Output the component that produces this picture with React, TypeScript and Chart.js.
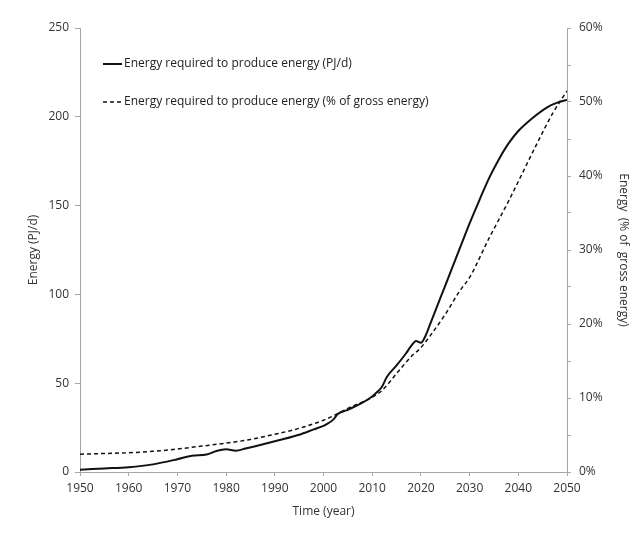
import React, { useEffect, useRef } from 'react';
import { Chart, registerables } from 'chart.js';
Chart.register(...registerables);

const pjYears = [1950, 1955, 1960, 1965, 1970, 1973, 1976, 1978, 1980, 1982, 1984, 1986, 1991, 1995, 1998, 2000, 2001, 2002, 2003, 2005, 2008, 2010, 2011, 2012, 2013, 2015, 2017, 2018, 2019, 2020, 2021, 2022, 2024, 2026, 2028, 2030, 2032, 2034, 2036, 2038, 2040, 2043, 2046, 2048, 2050];
const energyPJ = [1.3, 2.0, 2.7, 4.3, 7.2, 9.2, 9.8, 11.8, 12.8, 12.0, 13.2, 14.5, 18.0, 21.0, 24.0, 26.0, 27.5, 29.5, 32.8, 35.0, 39.0, 42.5, 45.0, 48.0, 53.5, 60.0, 67.0, 71.0, 73.8, 72.8, 77.0, 84.0, 98.0, 112.0, 126.0, 140.0, 153.0, 165.5, 176.0, 185.0, 192.0, 199.5, 205.5, 208.0, 209.5];

const pctYears = [1950, 1955, 1960, 1965, 1970, 1975, 1980, 1985, 1990, 1995, 2000, 2003, 2005, 2010, 2012, 2015, 2018, 2020, 2022, 2025, 2028, 2030, 2034, 2038, 2041, 2044, 2047, 2050];
const energyPct = [2.4, 2.5, 2.6, 2.8, 3.1, 3.5, 3.9, 4.4, 5.1, 5.9, 7.0, 7.9, 8.6, 10.1, 11.0, 13.3, 15.6, 16.8, 18.5, 21.3, 24.5, 26.3, 31.6, 36.6, 40.6, 44.6, 48.4, 51.5];

const seriesLabels = [
  'Energy required to produce energy (PJ/d)',
  'Energy required to produce energy (% of gross energy)',
];
const axisTitles = { x: 'Time (year)', y: 'Energy (PJ/d)', y1: 'Energy  (% of  gross energy)' };

const FONT = '"Open Sans", "DejaVu Sans", sans-serif';
const TEXT = '#333333';
const AXIS = '#a6a6a6';

const inlineLegend = {
  id: 'inlineLegend',
  afterDraw(chart: any) {
    const { ctx, chartArea } = chart;
    const rowsY = [chartArea.top + 36, chartArea.top + 74];
    chart.data.datasets.forEach((ds: any, i: number) => {
      const y = rowsY[i];
      const x0 = chartArea.left + 23;
      ctx.save();
      ctx.strokeStyle = ds.borderColor;
      ctx.lineWidth = ds.borderWidth;
      ctx.setLineDash(ds.borderDash || []);
      ctx.beginPath();
      ctx.moveTo(x0, y);
      ctx.lineTo(x0 + 19, y);
      ctx.stroke();
      ctx.setLineDash([]);
      ctx.fillStyle = '#222';
      ctx.font = `12px ${FONT}`;
      ctx.textBaseline = 'middle';
      ctx.textAlign = 'left';
      ctx.fillText(ds.label, x0 + 21, y);
      ctx.restore();
    });
  },
};

export default function App() {
  const ref = useRef<HTMLCanvasElement>(null);
  useEffect(() => {
    if (!ref.current) return;
    const tickFont = { family: FONT, size: 12 };
    const chart = new Chart(ref.current, {
      type: 'line',
      data: {
        datasets: [
          {
            label: seriesLabels[0],
            data: pjYears.map((x, i) => ({ x, y: energyPJ[i] })),
            borderColor: '#111',
            borderWidth: 2,
            pointRadius: 0,
            cubicInterpolationMode: 'monotone',
            yAxisID: 'y',
          },
          {
            label: seriesLabels[1],
            data: pctYears.map((x, i) => ({ x, y: energyPct[i] })),
            borderColor: '#111',
            borderWidth: 1.5,
            borderDash: [4, 3],
            pointRadius: 0,
            cubicInterpolationMode: 'monotone',
            yAxisID: 'y1',
          },
        ],
      },
      options: {
        animation: false,
        responsive: true,
        maintainAspectRatio: false,
        events: [],
        layout: { padding: { top: 28, left: 0, right: 0, bottom: 0 } },
        plugins: { legend: { display: false }, tooltip: { enabled: false } },
        scales: {
          x: {
            type: 'linear',
            min: 1950,
            max: 2050,
            ticks: { stepSize: 10, callback: (v: any) => String(v), font: tickFont, color: TEXT, padding: 5, maxRotation: 0 },
            grid: { drawOnChartArea: false, tickLength: 4, color: AXIS },
            border: { color: AXIS },
            title: { display: true, text: axisTitles.x, font: tickFont, color: TEXT, padding: { top: 0, bottom: 17 } },
            afterFit: (s: any) => { s.height = 64; },
          },
          y: {
            position: 'left',
            min: 0,
            max: 250,
            ticks: { stepSize: 50, font: tickFont, color: TEXT, padding: 6 },
            grid: { drawOnChartArea: false, tickLength: 5, color: AXIS },
            border: { color: AXIS },
            title: { display: true, text: axisTitles.y, font: tickFont, color: TEXT, padding: { top: 26, bottom: 0 } },
            afterFit: (s: any) => { s.width = 80; },
          },
          y1: {
            position: 'right',
            min: 0,
            max: 60,
            ticks: {
              stepSize: 5,
              callback: (v: any) => (Number(v) % 10 === 0 ? `${v}%` : ''),
              font: tickFont,
              color: TEXT,
              padding: 8,
            },
            grid: { drawOnChartArea: false, tickLength: 4, color: AXIS },
            border: { color: AXIS },
            title: { display: true, text: axisTitles.y1, font: tickFont, color: TEXT, padding: { top: 10, bottom: 0 } },
            afterFit: (s: any) => { s.width = 74; },
          },
        },
      },
      plugins: [inlineLegend],
    } as any);
    return () => chart.destroy();
  }, []);
  return (
    <div style={{ position: 'fixed', left: 0, top: 0, width: 641, height: 536, background: '#fff' }}>
      <canvas ref={ref} />
    </div>
  );
}
